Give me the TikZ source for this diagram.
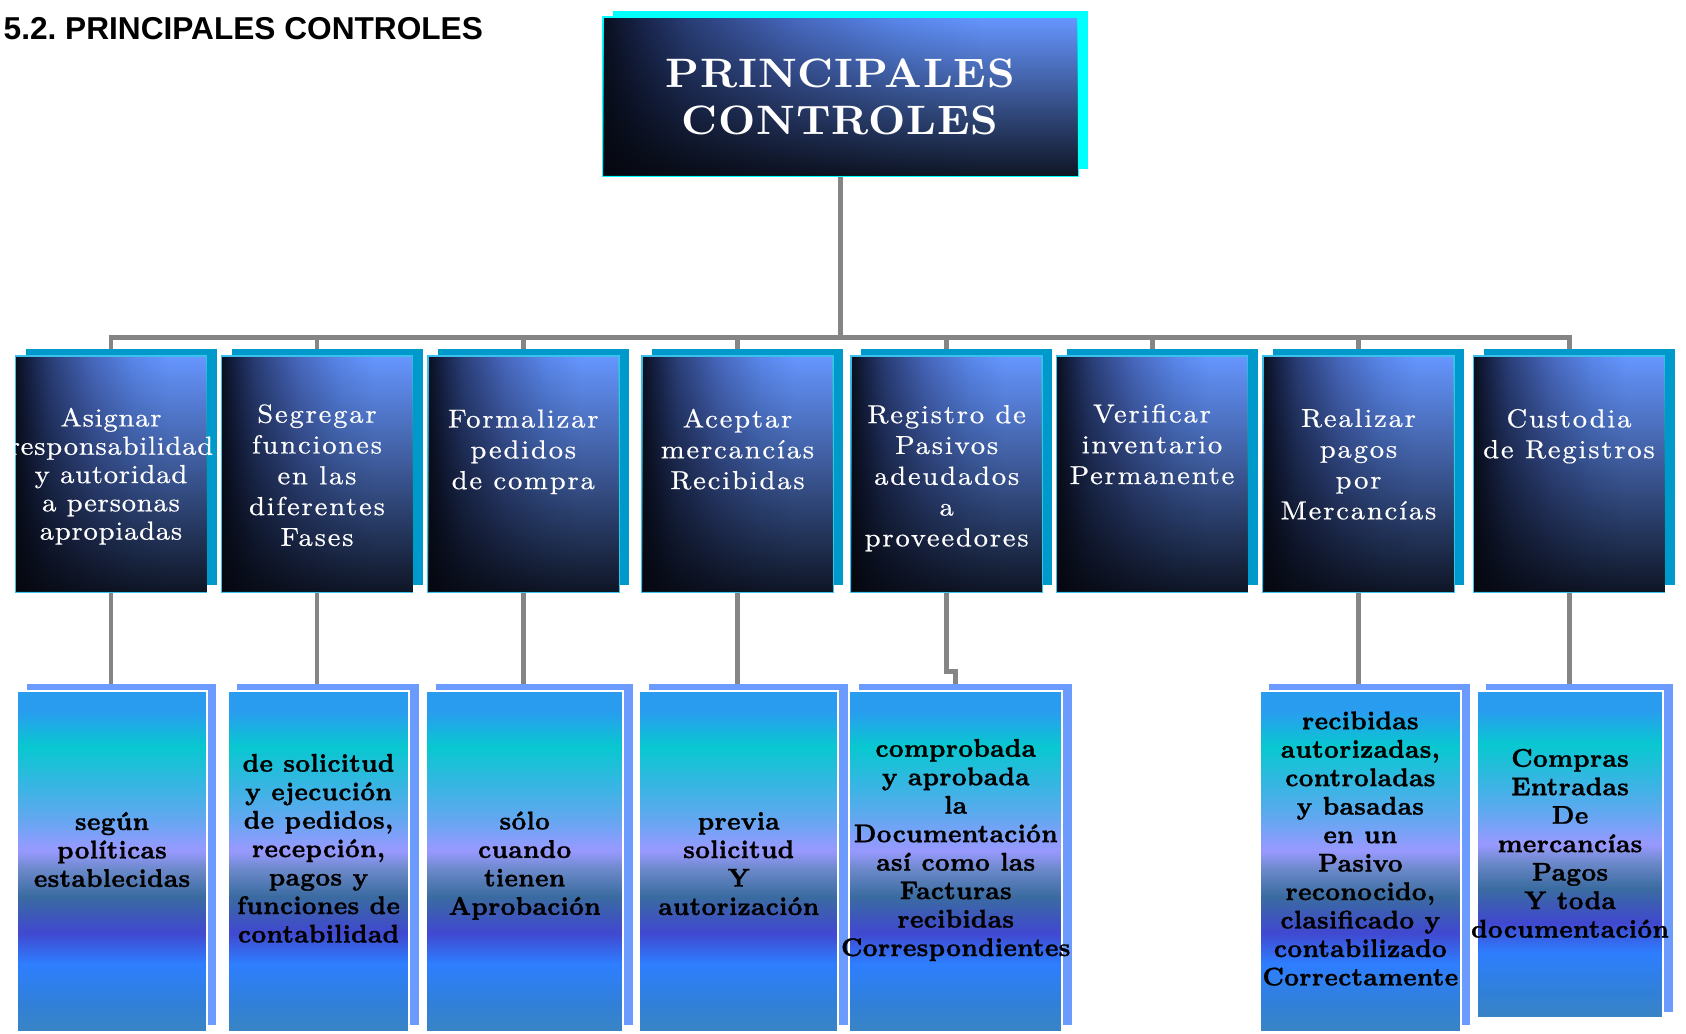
\documentclass[tikz,border=0pt]{standalone}
\usepackage{fontspec}
\newfontfamily\headfont{Liberation Sans}
\newfontfamily\wideroman[Extension=.otf,FakeStretch=1.1,FakeBold=0.6,LetterSpace=7]{lmroman10-regular}
\newfontfamily\narrowroman[Extension=.otf,FakeStretch=1.1,FakeBold=0.6,LetterSpace=3]{lmroman10-regular}
\newfontfamily\widebold[Extension=.otf,FakeStretch=1.05,LetterSpace=2]{lmroman10-bold}
\newfontfamily\slimbold[Extension=.otf,FakeStretch=0.91,FakeBold=0.8]{lmroman7-bold}
\usetikzlibrary{shadows,backgrounds,fadings}

% colours
\definecolor{linkgray}{HTML}{858585}
\definecolor{duskA}{HTML}{0A1020}
\definecolor{duskB}{HTML}{18244A}
\definecolor{duskC}{HTML}{2A3F78}
\definecolor{duskD}{HTML}{4868BE}
\definecolor{duskE}{HTML}{5A88EC}
\definecolor{duskF}{HTML}{6696FF}
\definecolor{glowblack}{HTML}{05070D}
\definecolor{seablue}{HTML}{0099CC}
\definecolor{rimcyan}{HTML}{3CC0EC}
\definecolor{brightcyan}{HTML}{00FFFF}
\definecolor{skyshadow}{HTML}{6B9BFF}
\definecolor{lagoonA}{HTML}{2A9CF0}
\definecolor{lagoonB}{HTML}{08C8D0}
\definecolor{lagoonC}{HTML}{30B8E0}
\definecolor{lagoonD}{HTML}{60A8F0}
\definecolor{lagoonE}{HTML}{9999FF}
\definecolor{lagoonF}{HTML}{6A88C8}
\definecolor{lagoonG}{HTML}{3A6BA0}
\definecolor{lagoonH}{HTML}{4048D0}
\definecolor{lagoonI}{HTML}{2E7EFF}
\definecolor{lagoonJ}{HTML}{3080D8}
\definecolor{lagoonK}{HTML}{3A84C4}

% shadings
\pgfdeclarehorizontalshading{duskband}{100bp}{color(0bp)=(duskA); color(25bp)=(duskA);
  color(29bp)=(duskB); color(34bp)=(duskC); color(45bp)=(duskD); color(56bp)=(duskE);
  color(65bp)=(duskF); color(100bp)=(duskF)}
\pgfdeclareverticalshading{lagoon}{100bp}{color(0bp)=(lagoonK); color(25bp)=(lagoonK);
  color(29bp)=(lagoonJ); color(35bp)=(lagoonI); color(39.5bp)=(lagoonH); color(44.8bp)=(lagoonG);
  color(48.7bp)=(lagoonF); color(51.6bp)=(lagoonE); color(56.5bp)=(lagoonD); color(62bp)=(lagoonC);
  color(66.8bp)=(lagoonB); color(72bp)=(lagoonA); color(100bp)=(lagoonA)}
\tikzfading[name=duskfade, top color=transparent!100, middle color=transparent!100, bottom color=transparent!10]

\tikzset{
  heading/.style={anchor=base west, inner sep=0pt, font=\headfont\bfseries\fontsize{9}{10.8}\selectfont},
  mainbox/.style={rectangle, draw=brightcyan, line width=0.6pt, minimum width=4.75cm, minimum height=1.584cm,
    inner sep=0pt, shade, shading=duskband, postaction={fill=glowblack, path fading=duskfade},
    general shadow={fill=brightcyan, shadow xshift=0.105cm, shadow yshift=0.065cm},
    text=white, align=center, font=\widebold\fontsize{11.7}{13.3}\selectfont},
  taskbox/.style={rectangle, draw=rimcyan, line width=0.45pt, minimum width=1.91cm, minimum height=2.36cm,
    inner sep=0pt, shade, shading=duskband, postaction={fill=glowblack, path fading=duskfade},
    general shadow={fill=seablue, shadow xshift=0.1cm, shadow yshift=0.07cm}},
  notebox/.style={rectangle, draw=white, line width=0.6pt, minimum height=3.41cm, inner sep=0pt,
    shade, shading=lagoon, general shadow={fill=skyshadow, shadow xshift=0.095cm, shadow yshift=0.065cm}},
  tasktext/.style={text=white, align=center, inner sep=0pt, font=\wideroman\fontsize{7.4}{8.76}\selectfont},
  notetext/.style={align=center, inner sep=0pt, font=\slimbold\fontsize{7.3}{8.1}\selectfont},
  link/.style={draw=linkgray, line width=1.42pt, line cap=rect}
}

\begin{document}
\begin{tikzpicture}[x=1cm,y=1cm]
\useasboundingbox (0,0) rectangle (16.86,-10.33);

% Page heading
\node[heading] (heading) at (0.03,-0.393) {5.2.\ PRINCIPALES CONTROLES};

% Top box
\node[mainbox] (head) at (8.402,-0.965) {PRINCIPALES\\CONTROLES};

% First row of boxes
\foreach \i/\x in {1/1.11,2/3.17,3/5.233,4/7.375,5/9.467,6/11.52,7/13.585,8/15.69}
\node[taskbox] (task\i) at (\x,-4.74) {};

% Texts of the first row
\node[tasktext, font=\narrowroman\fontsize{7.4}{8.05}\selectfont] (caption1) at ([yshift=-1.21cm]task1.north) {Asignar\\responsabilidad\\y autoridad\\a personas\\apropiadas};
\node[tasktext] (caption2) at ([yshift=-1.20cm]task2.north) {Segregar\\funciones\\en las\\diferentes\\Fases};
\node[tasktext] (caption3) at ([yshift=-0.966cm]task3.north) {Formalizar\\pedidos\\de compra};
\node[tasktext] (caption4) at ([yshift=-0.94cm]task4.north) {Aceptar\\mercancías\\Recibidas};
\node[tasktext] (caption5) at ([yshift=-1.23cm]task5.north) {Registro de\\Pasivos\\adeudados\\a\\proveedores};
\node[tasktext] (caption6) at ([yshift=-0.89cm]task6.north) {Verificar\\inventario\\Permanente};
\node[tasktext] (caption7) at ([yshift=-1.09cm]task7.north) {Realizar\\pagos\\por\\Mercancías};
\node[tasktext] (caption8) at ([yshift=-0.81cm]task8.north) {Custodia\\de Registros};

% Second row of boxes
\node[notebox, minimum width=1.894cm] (note1) at (1.12,-8.612) {};
\node[notebox, minimum width=1.816cm] (note2) at (3.185,-8.612) {};
\node[notebox, minimum width=1.973cm] (note3) at (5.247,-8.612) {};
\node[notebox, minimum width=1.993cm] (note4) at (7.387,-8.612) {};
\node[notebox, minimum width=2.133cm] (note5) at (9.557,-8.612) {};
\node[notebox, minimum width=2.007cm] (note7) at (13.603,-8.612) {};
\node[notebox, minimum width=1.866cm, minimum height=3.276cm] (note8) at (15.70,-8.545) {};

% Texts of the second row
\node[notetext] (remark1) at ([yshift=0.117cm]note1.center) {según\\políticas\\establecidas};
\node[notetext] (remark2) at ([yshift=0.129cm]note2.center) {de solicitud\\y ejecución\\de pedidos,\\recepción,\\pagos y\\funciones de\\contabilidad};
\node[notetext] (remark3) at ([yshift=-0.044cm]note3.center) {sólo\\cuando\\tienen\\Aprobación};
\node[notetext] (remark4) at ([yshift=-0.024cm]note4.center) {previa\\solicitud\\Y\\autorización};
\node[notetext] (remark5) at ([yshift=0.112cm]note5.center) {comprobada\\y aprobada\\la\\Documentación\\así como las\\Facturas\\recibidas\\Correspondientes};
\node[notetext] (remark7) at ([yshift=0.126cm]note7.center) {recibidas\\autorizadas,\\controladas\\y basadas\\en un\\Pasivo\\reconocido,\\clasificado y\\contabilizado\\Correctamente};
\node[notetext] (remark8) at ([yshift=0.112cm]note8.center) {Compras\\Entradas\\De\\mercancías\\Pagos\\Y toda\\documentación};

% Connections
\begin{scope}[on background layer]
\fill[white] (0,0) rectangle (16.86,-10.33);
\coordinate (hub) at (8.40,-3.37);
\draw[link] (head.south) -- (head.south |- hub);
\draw[link] (task1.north |- hub) -- (task8.north |- hub);
\foreach \i in {1,...,8}
\draw[link] (task\i.north |- hub) -- (task\i.north);
\foreach \i in {1,2,3,4,7,8}
\draw[link] (task\i.south) -- (task\i.south |- note\i.north);
\draw[link] (task5.south) -- ++(0,-0.785) -| (note5.north);
\end{scope}

\end{tikzpicture}
\end{document}
